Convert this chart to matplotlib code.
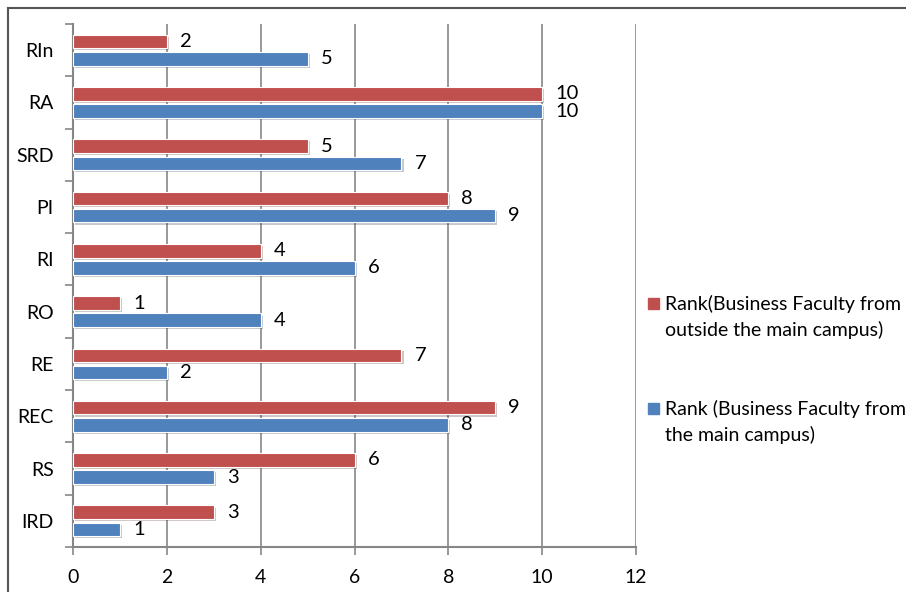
import numpy as np
import matplotlib
matplotlib.use("Agg")
import matplotlib.pyplot as plt
import matplotlib.patheffects as pe
from matplotlib.lines import Line2D
from matplotlib.patches import Rectangle

plt.rcParams["font.family"] = ["Lato", "DejaVu Sans"]

categories = ["IRD", "RS", "REC", "RE", "RO", "RI", "PI", "SRD", "RA", "RIn"]
rank_outside = [3, 6, 9, 7, 1, 4, 8, 5, 10, 2]
rank_main = [1, 3, 8, 2, 4, 6, 9, 7, 10, 5]
label_outside = "Rank(Business Faculty from\noutside the main campus)"
label_main = "Rank (Business Faculty from\nthe main campus)"

red = "#C0504D"
blue = "#4F81BD"
axis_grey = "#868686"

W, H = 906, 592
fig = plt.figure(figsize=(W / 100, H / 100), dpi=100)
ax = fig.add_axes([0.0806, 0.076, 0.6214, 0.8835])

y = np.arange(len(categories))
h = 0.26
off = 0.165
shadow = [pe.SimplePatchShadow(offset=(1.5, -1.5), alpha=0.25), pe.Normal()]

b_out = ax.barh(y + off, rank_outside, height=h, color=red, edgecolor="white",
                linewidth=0.8, zorder=3)
b_main = ax.barh(y - off, rank_main, height=h, color=blue, edgecolor="white",
                 linewidth=0.8, zorder=3)
for bar in list(b_out) + list(b_main):
    bar.set_path_effects(shadow)

# value labels next to each bar end
for yy, v in zip(y + off, rank_outside):
    ax.annotate(str(v), (v, yy), xytext=(13, 0), textcoords="offset pixels",
                va="center", ha="left", fontsize=14.5)
for yy, v in zip(y - off, rank_main):
    ax.annotate(str(v), (v, yy), xytext=(13, 0), textcoords="offset pixels",
                va="center", ha="left", fontsize=14.5)

ax.set_xlim(0, 12)
ax.set_ylim(-0.5, len(categories) - 0.5)
ax.set_xticks(range(0, 13, 2))
ax.set_yticks(y)
ax.set_yticklabels(categories)
ax.set_yticks(np.arange(-0.5, len(categories), 1), minor=True)

ax.tick_params(axis="y", which="major", length=0, pad=14, labelsize=14)
ax.tick_params(axis="y", which="minor", length=6, width=1.2, color=axis_grey)
ax.tick_params(axis="x", which="major", length=6, width=1.2, color=axis_grey,
               pad=10, labelsize=14)

ax.xaxis.grid(True, color=axis_grey, linewidth=1.2, zorder=0)
ax.set_axisbelow(True)
for side in ["top", "right"]:
    ax.spines[side].set_visible(False)
for side in ["left", "bottom"]:
    ax.spines[side].set_color(axis_grey)
    ax.spines[side].set_linewidth(1.5)

# legend: square marker beside the first line of each two-line entry
for color, text, ytop in [(red, label_outside, 292), (blue, label_main, 397)]:
    fig.add_artist(Rectangle((648 / W, 1 - (ytop + 17) / H), 11 / W, 11 / H,
                             transform=fig.transFigure, color=color))
    fig.text(665 / W, 1 - (ytop + 3) / H, text, ha="left", va="top",
             fontsize=14, linespacing=1.55)

# outer chart frame (left and top edges)
fig.add_artist(Line2D([0.009, 0.009], [0, 0.986], transform=fig.transFigure,
                      color="#555555", linewidth=1.5))
fig.add_artist(Line2D([0.009, 1], [0.986, 0.986], transform=fig.transFigure,
                      color="#555555", linewidth=1.5))

fig.savefig("out.png", dpi=100)
